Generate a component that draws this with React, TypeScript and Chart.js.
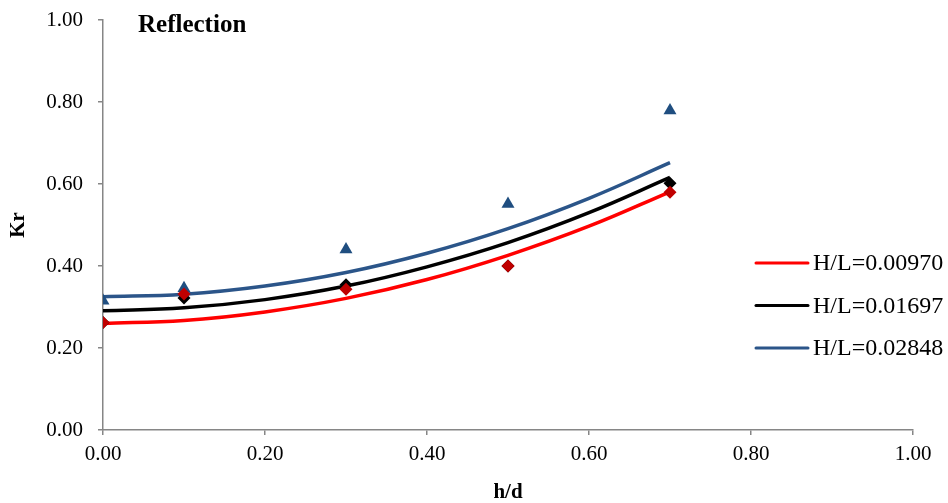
import React, { useEffect, useRef } from "react";
import { Chart, registerables } from "chart.js";

Chart.register(...registerables);

// Measured points (h/d vs Kr)
const hd = [0, 0.1, 0.3, 0.5, 0.7];
const krRed = [0.262, 0.332, 0.343, 0.4, 0.58];
const krBlack = [0.262, 0.322, 0.354, 0.4, 0.602];
const krBlue = [0.315, 0.346, 0.44, 0.551, 0.779];

// Trend lines
const trendX = [0, 0.1, 0.2, 0.3, 0.4, 0.5, 0.6, 0.7];
const trendRed = [0.26, 0.267, 0.288, 0.321, 0.367, 0.426, 0.497, 0.581];
const trendBlack = [0.291, 0.298, 0.318, 0.351, 0.398, 0.457, 0.53, 0.616];
const trendBlue = [0.325, 0.331, 0.351, 0.384, 0.431, 0.491, 0.565, 0.652];

const seriesLabels = ["H/L=0.00970", "H/L=0.01697", "H/L=0.02848"];
const xTicks = [0, 0.2, 0.4, 0.6, 0.8, 1.0];
const yTicks = [0, 0.2, 0.4, 0.6, 0.8, 1.0];

const FONT = "'Liberation Serif', 'Times New Roman', serif";

const pts = (xs: number[], ys: number[]) => xs.map((x, i) => ({ x, y: ys[i] }));

export default function App() {
  const ref = useRef<HTMLCanvasElement | null>(null);

  useEffect(() => {
    document.body.style.margin = "0";
    const canvas = ref.current!;
    const overlay = {
      id: "overlay",
      afterDraw(chart: any) {
        const ctx = chart.ctx;
        const area = chart.chartArea;
        ctx.save();
        // title inside plot
        ctx.fillStyle = "#000";
        ctx.font = `bold 25px ${FONT}`;
        ctx.textAlign = "left";
        ctx.textBaseline = "alphabetic";
        ctx.fillText("Reflection", area.left + 35, 32);
        // legend
        const lines = chart.data.datasets.filter((d: any) => d.isTrend);
        ctx.font = `24px ${FONT}`;
        ctx.textBaseline = "middle";
        lines.forEach((d: any, i: number) => {
          const y = 263 + i * 42.5;
          ctx.strokeStyle = d.borderColor;
          ctx.lineWidth = 3;
          ctx.lineCap = "round";
          ctx.beginPath();
          ctx.moveTo(756, y);
          ctx.lineTo(808, y);
          ctx.stroke();
          ctx.fillStyle = "#000";
          ctx.fillText(d.label, 813, y + 1);
        });
        ctx.restore();
      },
    };

    const trend = (label: string, ys: number[], color: string, order: number) =>
      ({
        label,
        isTrend: true,
        data: pts(trendX, ys),
        showLine: true,
        borderColor: color,
        borderWidth: 3.5,
        pointRadius: 0,
        tension: 0.4,
        order,
      } as any);

    const chart = new Chart(canvas, {
      type: "scatter",
      data: {
        datasets: [
          {
            label: seriesLabels[0] + " pts",
            data: pts(hd, krRed),
            pointStyle: "rectRot",
            pointRadius: 6.5,
            backgroundColor: "#C00000",
            borderColor: "#C00000",
            borderWidth: 0,
            showLine: false,
            order: 0,
          },
          {
            label: seriesLabels[1] + " pts",
            data: pts(hd, krBlack),
            pointStyle: "rectRot",
            pointRadius: 6.5,
            backgroundColor: "#000000",
            borderColor: "#000000",
            borderWidth: 0,
            showLine: false,
            order: 1,
          },
          {
            label: seriesLabels[2] + " pts",
            data: pts(hd, krBlue),
            pointStyle: "triangle",
            pointRadius: 7.5,
            backgroundColor: "#1F4E80",
            borderColor: "#1F4E80",
            borderWidth: 0,
            showLine: false,
            order: 2,
          },
          trend(seriesLabels[0], trendRed, "#FF0000", 5),
          trend(seriesLabels[1], trendBlack, "#000000", 4),
          trend(seriesLabels[2], trendBlue, "#2B5589", 3),
        ],
      },
      options: {
        animation: false,
        responsive: false,
        maintainAspectRatio: false,
        layout: { padding: { left: 0, right: 35, top: 20, bottom: 0 } },
        plugins: {
          legend: { display: false },
          tooltip: { enabled: false },
          title: { display: false },
        },
        scales: {
          x: {
            type: "linear",
            min: 0,
            max: 1,
            afterBuildTicks: (s: any) => {
              s.ticks = xTicks.map((v) => ({ value: v }));
            },
            afterFit: (s: any) => {
              s.height = 73;
              s.paddingLeft = 0;
              s.paddingRight = 0;
            },
            border: { display: true, color: "#868686", width: 1.5 },
            grid: { display: true, drawOnChartArea: false, drawTicks: true, tickLength: 5, color: "#868686", lineWidth: 1.5 },
            ticks: {
              color: "#000",
              font: { family: FONT, size: 21 },
              padding: 7,
              maxRotation: 0,
              callback: (v: any) => Number(v).toFixed(2),
            },
            title: {
              display: true,
              text: "h/d",
              color: "#000",
              font: { family: FONT, size: 21, weight: "bold" },
              padding: { top: 0, bottom: -2 },
            },
          },
          y: {
            type: "linear",
            min: 0,
            max: 1,
            afterBuildTicks: (s: any) => {
              s.ticks = yTicks.map((v) => ({ value: v }));
            },
            afterFit: (s: any) => {
              s.width = 103;
              s.paddingTop = 0;
              s.paddingBottom = 0;
            },
            border: { display: true, color: "#868686", width: 1.5 },
            grid: { display: true, drawOnChartArea: false, drawTicks: true, tickLength: 5, color: "#868686", lineWidth: 1.5 },
            ticks: {
              color: "#000",
              font: { family: FONT, size: 21 },
              padding: 15,
              callback: (v: any) => Number(v).toFixed(2),
            },
            title: {
              display: true,
              text: "Kr",
              color: "#000",
              font: { family: FONT, size: 21, weight: "bold" },
              padding: { top: 6, bottom: 0 },
            },
          },
        },
      },
      plugins: [overlay],
    } as any);
    return () => chart.destroy();
  }, []);

  return (
    <div style={{ position: "absolute", left: 0, top: 0, width: 948, height: 503 }}>
      <canvas ref={ref} width={948} height={503} style={{ width: 948, height: 503, display: "block" }} />
    </div>
  );
}
